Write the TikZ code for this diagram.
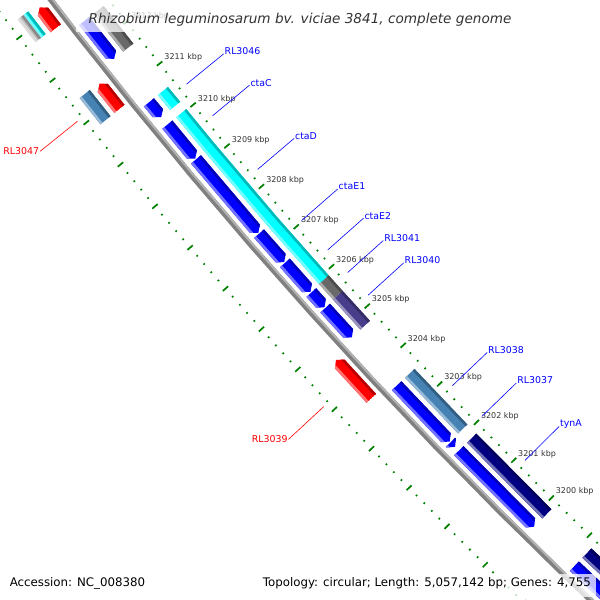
\documentclass[tikz,border=0pt]{standalone}
\usepackage{fontspec}
\setmainfont{DejaVu Sans}
\definecolor{fblue}{RGB}{0,0,255}
\definecolor{fred}{RGB}{255,0,0}
\definecolor{fcyan}{RGB}{0,255,255}
\definecolor{fgray}{RGB}{105,105,105}
\definecolor{fslate}{RGB}{72,61,139}
\definecolor{fsteel}{RGB}{70,130,180}
\definecolor{fnavy}{RGB}{0,0,128}
\definecolor{flgray}{RGB}{190,190,190}
\definecolor{tickgreen}{RGB}{0,128,0}
\definecolor{kbpgray}{RGB}{51,51,51}
\definecolor{bbgray}{RGB}{128,128,128}
\tikzset{
  kbplbl/.style={anchor=base west, inner sep=0pt, text=kbpgray, font=\fontsize{8}{9}\selectfont},
  lbltxt/.style={inner sep=0pt, font=\fontsize{9.4}{10}\selectfont},
  inline/.style={fblue, line width=0.6pt},
  outline/.style={fred, line width=0.6pt},
  majtick/.style={tickgreen, line width=1.7pt},
  mintick/.style={tickgreen, line width=1.6pt}
}
% plain bar: Kstart Kend rin rout colour
\newcommand\fbar[5]{%
  \pgfmathsetmacro\fbA{134.70+0.589*(#1-3200)}%
  \pgfmathsetmacro\fbB{134.70+0.589*(#2-3200)}%
  \pgfmathsetmacro\fbC{#3+2.6}%
  \pgfmathsetmacro\fbD{#4-2.6}%
  \fill[#5] (\fbA:#3) -- (\fbB:#3) -- (\fbB:#4) -- (\fbA:#4) -- cycle;
  \fill[#5!72!black] (\fbA:#3) -- (\fbB:#3) -- (\fbB:\fbC) -- (\fbA:\fbC) -- cycle;
  \fill[#5!55!white] (\fbA:\fbD) -- (\fbB:\fbD) -- (\fbB:#4) -- (\fbA:#4) -- cycle;
}
% arrow: Kend Ktip rin rout colour dir (+1 tip at smaller K, -1 tip at larger K)
\newcommand\farr[6]{%
  \pgfmathsetmacro\faA{134.70+0.589*(#1-3200)}%
  \pgfmathsetmacro\faT{134.70+0.589*(#2-3200)}%
  \pgfmathsetmacro\faH{134.70+0.589*(#2+#6*0.1-3200)}%
  \pgfmathsetmacro\faM{(#3+#4)/2}%
  \pgfmathsetmacro\faC{#3+2.6}%
  \pgfmathsetmacro\faD{#4-2.6}%
  \pgfmathsetmacro\faI{#3-1}%
  \pgfmathsetmacro\faO{#4+1}%
  \begin{scope}
    \clip (\faA:#3) -- (\faH:#3) -- (\faT:\faM) -- (\faH:#4) -- (\faA:#4) -- cycle;
    \fill[#5] (\faA:\faI) -- (\faT:\faI) -- (\faT:\faO) -- (\faA:\faO) -- cycle;
    \fill[#5!72!black] (\faA:\faI) -- (\faT:\faI) -- (\faT:\faC) -- (\faA:\faC) -- cycle;
    \fill[#5!55!white] (\faA:\faD) -- (\faT:\faD) -- (\faT:\faO) -- (\faA:\faO) -- cycle;
  \end{scope}
}
% inner label: name K text
\newcommand\lblin[3]{%
  \pgfmathsetmacro\lA{134.70+0.589*(#2-3200)}%
  \coordinate (#1s) at (\lA:5168);
  \coordinate (#1e) at (\lA:5120);
  \draw[inline] (#1s) -- (#1e);
  \node[lbltxt, text=fblue, anchor=west, xshift=0.8pt, yshift=2.5pt] (#1) at (#1e) {#3};
}
% outer label: name K text
\newcommand\lblout[3]{%
  \pgfmathsetmacro\lA{134.70+0.589*(#2-3200)}%
  \coordinate (#1s) at (\lA:5276);
  \coordinate (#1e) at (\lA:5324);
  \draw[outline] (#1s) -- (#1e);
  \node[lbltxt, text=fred, anchor=east, xshift=-0.8pt] (#1) at (#1e) {#3};
}
\begin{document}
\begin{tikzpicture}[x=1pt,y=-1pt]
\useasboundingbox (0,0) rectangle (600,600);
\fill[white] (0,0) rectangle (600,600);
\clip (0,0) rectangle (600,600);
\begin{scope}[shift={(4192,-3181)}]
  % backbone
  \draw[bbgray, line width=5.5pt] plot[domain=132.5:143.5, samples=23] (\x:5222);
  \draw[gray!60, line width=2pt] plot[domain=132.5:143.5, samples=23] (\x:5220.3);
  % ticks
  \foreach \i in {0,...,90} {
    \pgfmathsetmacro\tk{134.70+0.589*(0.2*\i-4)}
    \pgfmathtruncatemacro\tm{mod(\i,5)}
    \ifnum\tm=0
      \draw[majtick] (\tk:5172.5) -- (\tk:5179.5);
      \draw[majtick] (\tk:5266.5) -- (\tk:5273.5);
    \else
      \draw[mintick] (\tk:5175.1) -- (\tk:5176.9);
      \draw[mintick] (\tk:5269.1) -- (\tk:5270.9);
    \fi
  }
  \foreach \k in {3200,...,3212} {
    \pgfmathsetmacro\ka{134.70+0.589*(\k-3200)}
    \node[kbplbl] (kbp\k) at (\ka:5170) {\k\ kbp};
  }
  % forward features: ring B (COG colours)
  \fbar{3212.50}{3211.60}{5184}{5197}{fgray}
  \fbar{3210.56}{3210.20}{5184}{5197}{fcyan}
  \fbar{3210.02}{3209.20}{5184}{5197}{fcyan}
  \fbar{3209.20}{3207.38}{5184}{5197}{fcyan}
  \fbar{3207.38}{3206.65}{5184}{5197}{fcyan}
  \fbar{3206.65}{3205.91}{5184}{5197}{fcyan}
  \fbar{3205.91}{3205.52}{5184}{5197}{fgray}
  \fbar{3205.52}{3204.76}{5184}{5197}{fslate}
  \fbar{3203.53}{3202.09}{5184}{5197}{fsteel}
  \fbar{3201.85}{3199.85}{5184}{5197}{fnavy}
  \fbar{3198.80}{3196.50}{5184}{5197}{fnavy}
  % forward features: ring A (blue arrows)
  \farr{3212.50}{3211.60}{5202}{5215}{fblue}{1}
  \farr{3210.56}{3210.20}{5202}{5215}{fblue}{1}
  \farr{3210.02}{3209.20}{5202}{5215}{fblue}{1}
  \farr{3209.18}{3207.38}{5202}{5215}{fblue}{1}
  \farr{3207.36}{3206.65}{5202}{5215}{fblue}{1}
  \farr{3206.63}{3205.91}{5202}{5215}{fblue}{1}
  \farr{3205.89}{3205.52}{5202}{5215}{fblue}{1}
  \farr{3205.50}{3204.76}{5202}{5215}{fblue}{1}
  \farr{3203.53}{3202.09}{5202}{5215}{fblue}{1}
  \farr{3202.07}{3201.95}{5202}{5215}{fblue}{1}
  \farr{3201.85}{3199.85}{5202}{5215}{fblue}{1}
  \farr{3198.80}{3196.50}{5202}{5215}{fblue}{1}
  % reverse features: ring C (red arrows)
  \farr{3212.72}{3213.21}{5229}{5242}{fred}{-1}
  \farr{3210.81}{3211.41}{5229}{5242}{fred}{-1}
  \farr{3203.68}{3204.65}{5229}{5242}{fred}{-1}
  % reverse features: ring D
  \fbar{3213.28}{3212.75}{5247}{5253}{fcyan}
  \fbar{3213.28}{3212.75}{5253}{5260}{flgray}
  \fbar{3211.43}{3210.81}{5247}{5260}{fsteel}
  % labels
  \lblin{lRLa}{3210.38}{RL3046}
  \lblin{lctaC}{3209.61}{ctaC}
  \lblin{lctaD}{3208.29}{ctaD}
  \lblin{lctaEa}{3207.02}{ctaE1}
  \lblin{lctaEb}{3206.28}{ctaE2}
  \lblin{lRLb}{3205.715}{RL3041}
  \lblin{lRLc}{3205.14}{RL3040}
  \lblin{lRLd}{3202.81}{RL3038}
  \lblin{lRLe}{3202.01}{RL3037}
  \lblin{ltynA}{3200.85}{tynA}
  \lblout{lRLf}{3211.12}{RL3047}
  \lblout{lRLg}{3204.17}{RL3039}
\end{scope}
% title and info boxes
\fill[white, opacity=0.75] (76,2) rectangle (524,32);
\node[anchor=base, inner sep=0pt, text=black!80, font=\fontsize{13.6}{16}\selectfont\itshape] (title) at (300,23) {Rhizobium leguminosarum bv. viciae 3841, complete genome};
\fill[white, opacity=0.75] (256,574) rectangle (596,597);
\node[anchor=base west, inner sep=0pt, font=\fontsize{11.8}{14}\selectfont] (acc) at (9.6,586) {Accession: NC\_008380};
\node[anchor=base east, inner sep=0pt, font=\fontsize{11.8}{14}\selectfont] (topo) at (591,586) {Topology: circular; Length: 5,057,142 bp; Genes: 4,755};
\end{tikzpicture}
\end{document}
